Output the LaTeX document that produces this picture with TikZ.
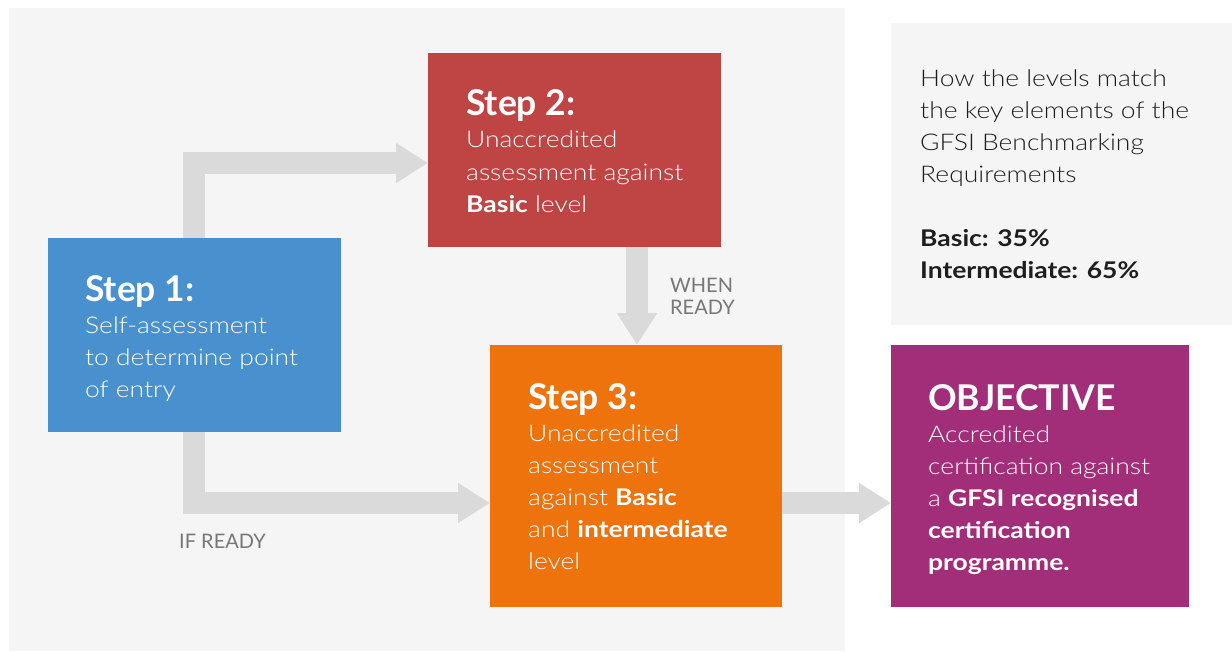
\documentclass[tikz,border=0pt]{standalone}
\usepackage{fontspec}
\setmainfont{Lato}[UprightFont=* Light, BoldFont=* Bold, FakeStretch=1.15]
\newfontfamily\headfam{Lato}
\usetikzlibrary{arrows.meta}
\definecolor{panelgray}{HTML}{F5F5F5}
\definecolor{arrowgray}{HTML}{DADADA}
\definecolor{blueS}{HTML}{4891CE}
\definecolor{redS}{HTML}{BF4444}
\definecolor{orangeS}{HTML}{EE730C}
\definecolor{purpleS}{HTML}{A22D78}
\definecolor{labelgray}{HTML}{777777}
\definecolor{darktext}{HTML}{1E1E1E}
\newcommand\mkline[1]{\hbox{#1}}
\newcommand\headf{\headfam\fontsize{35.5}{32}\selectfont\bfseries}
\tikzset{
  stepbox/.style={draw=none, rectangle, inner sep=0pt, anchor=north west},
  boxtext/.style={anchor=base west, inner sep=0pt, text=white},
  flowarrow/.style={draw=arrowgray, line width=22pt, line join=miter, line cap=butt,
     -{Triangle[width=38pt,length=32pt]}},
  smalllabel/.style={anchor=base west, inner sep=0pt, text=labelgray, font=\headfam\fontsize{20}{24}\selectfont},
}
\begin{document}
\begin{tikzpicture}[x=1pt,y=-1pt]
\useasboundingbox (0,0) rectangle (1232,651);
\fill[white] (0,0) rectangle (1232,651);
% panels
\node[stepbox, fill=panelgray, minimum width=836pt, minimum height=643pt] (bg) at (9,8) {};
\node[stepbox, fill=panelgray, minimum width=341pt, minimum height=302pt] (rp) at (891,23) {};
% boxes
\node[stepbox, fill=blueS, minimum width=293pt, minimum height=194pt] (s1) at (48,238) {};
\node[stepbox, fill=redS, minimum width=293pt, minimum height=194pt] (s2) at (428,53) {};
\node[stepbox, fill=orangeS, minimum width=292pt, minimum height=262pt] (s3) at (490,345) {};
\node[stepbox, fill=purpleS, minimum width=298pt, minimum height=262pt] (obj) at (891,345) {};
% arrow guide coordinates
\coordinate (a1) at (194,163);
\coordinate (a2) at (194,503);
\coordinate (a3) at (637,300);
\coordinate (a4) at (840,503);
% arrows
\draw[flowarrow] (s1.north -| a1) |- (s2.west |- a1);
\draw[flowarrow] (s1.south -| a2) |- (s3.west |- a2);
\draw[flowarrow] (s2.south -| a3) -- (s3.north -| a3);
\draw[flowarrow] (s3.east |- a4) -- (obj.west |- a4);
% texts
\node[boxtext] (t1) at (85,301) {\fontsize{23}{32}\selectfont\vtop{%
  \mkline{\headf Step 1:}\mkline{Self-assessment}\mkline{to determine point}\mkline{of entry}}};
\node[boxtext] (t2) at (466,115) {\fontsize{23}{32.5}\selectfont\vtop{%
  \mkline{\headf Step 2:}\mkline{Unaccredited}\mkline{assessment against}\mkline{\textbf{Basic} level}}};
\node[boxtext] (t3) at (528,409) {\fontsize{23}{32}\selectfont\vtop{%
  \mkline{\headf Step 3:}\mkline{Unaccredited}\mkline{assessment}\mkline{against \textbf{Basic}}\mkline{and \textbf{intermediate}}\mkline{level}}};
\node[boxtext] (t4) at (928,410) {\fontsize{23}{32}\selectfont\vtop{%
  \mkline{\headf OBJECTIVE}\mkline{Accredited}\mkline{certification against}\mkline{a \textbf{GFSI recognised}}\mkline{\textbf{certification}}\mkline{\textbf{programme.}}}};
\node[boxtext, text=darktext] (t5) at (920,86) {\fontsize{23}{32}\selectfont\vtop{%
  \mkline{How the levels match}\mkline{the key elements of the}\mkline{GFSI Benchmarking}\mkline{Requirements}\mkline{}\mkline{\textbf{Basic: 35\%}}\mkline{\textbf{Intermediate: 65\%}}}};
\node[smalllabel] (l1) at (179,548) {IF READY};
\node[smalllabel] (l2) at (670,292) {\vtop{\baselineskip=22pt\mkline{WHEN}\mkline{READY}}};
\end{tikzpicture}
\end{document}
